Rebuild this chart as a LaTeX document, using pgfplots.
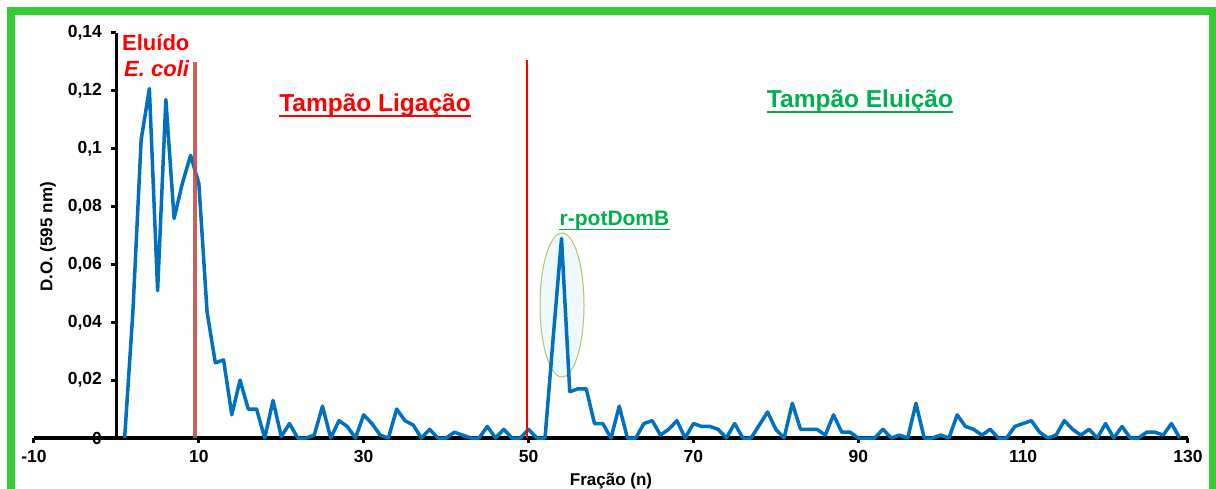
\documentclass[border=0pt]{standalone}
\usepackage{pgfplots}
\pgfplotsset{compat=1.18}
\usepackage{fontspec}
\setmainfont{Liberation Sans}
\definecolor{dblue}{RGB}{0,112,192}
\definecolor{frameg}{RGB}{51,204,51}
\definecolor{txtgreen}{RGB}{0,176,80}
\definecolor{brred}{RGB}{192,80,77}
\definecolor{ellg}{RGB}{180,198,100}
\newcommand\fs[1]{\fontsize{#1}{#1}\selectfont}
\pgfplotstableread{
x y
1 0
2 0.0436
3 0.103
4 0.1208
5 0.0509
6 0.117
7 0.0759
8 0.088
9 0.0977
10 0.088
11 0.0436
12 0.026
13 0.027
14 0.008
15 0.020
16 0.010
17 0.010
18 0
19 0.013
20 0.0005
21 0.005
22 0
23 0
24 0.001
25 0.011
26 0
27 0.006
28 0.004
29 0
30 0.008
31 0.005
32 0.001
33 0
34 0.010
35 0.006
36 0.0045
37 0
38 0.003
39 0
40 0
41 0.002
42 0.001
43 0
44 0
45 0.004
46 0
47 0.003
48 0
49 0
50 0.003
51 0
52 0
53 0.035
54 0.069
55 0.016
56 0.017
57 0.017
58 0.005
59 0.005
60 0
61 0.011
62 0
63 0
64 0.005
65 0.006
66 0.001
67 0.003
68 0.006
69 0
70 0.005
71 0.004
72 0.004
73 0.003
74 0
75 0.005
76 0
77 0
78 0.0045
79 0.009
80 0.003
81 0
82 0.012
83 0.003
84 0.003
85 0.003
86 0.001
87 0.008
88 0.002
89 0.002
90 0
91 0
92 0
93 0.003
94 0
95 0.001
96 0
97 0.012
98 0
99 0
100 0.001
101 0
102 0.008
103 0.004
104 0.003
105 0.001
106 0.003
107 0
108 0
109 0.004
110 0.005
111 0.006
112 0.002
113 0
114 0.001
115 0.006
116 0.003
117 0.001
118 0.003
119 0
120 0.005
121 0
122 0.004
123 0
124 0
125 0.002
126 0.002
127 0.001
128 0.005
129 0
}\datatable
\begin{document}
\begin{tikzpicture}[x=1pt,y=1pt]
\useasboundingbox (0,0) rectangle (1216,488);
\fill[white] (0,0) rectangle (1216,488);
\draw[frameg, line width=8] (11,-5) -- (11,477) -- (1213,477) -- (1213,-5);
\draw[fill=cyan!7, draw=ellg, line width=1] (562,183) ellipse [x radius=22, y radius=72];
\begin{axis}[
  at={(116.4pt,50pt)}, anchor=origin, scale only axis,
  width=1154pt, height=405pt,
  xmin=-10, xmax=130, ymin=0, ymax=0.14,
  axis lines=middle,
  axis line style={-, line width=3.5, black},
  clip=false,
  xtick={-10,10,30,50,70,90,110,130},
  xticklabels={-10,10,30,50,70,90,110,130},
  ytick={0,0.02,0.04,0.06,0.08,0.1,0.12,0.14},
  yticklabels={0,{0,02},{0,04},{0,06},{0,08},{0,1},{0,12},{0,14}},
  hide obscured y ticks=false,
  hide obscured x ticks=false,
  tick align=outside,
  major tick length=5,
  tick style={black, line width=3},
  ticklabel style={font=\bfseries\fs{17.5}},
  yticklabel style={xshift=-6pt},
  xticklabel style={yshift=-4pt},
]
\addplot[dblue, line width=3.5, line join=round, no marks] table[x=x,y=y] {\datatable};
\addplot[brred, line width=3.5, opacity=0.9, no marks] coordinates {(9.55,0) (9.55,0.13)};
\addplot[red, line width=2.5, no marks] coordinates {(49.8,0) (49.8,0.1306)};
\end{axis}
\node[anchor=base west, inner sep=0, text=red, font=\bfseries\fs{22}] at (122,437.3) {Eluído};
\node[anchor=base west, inner sep=0, text=red, font=\bfseries\itshape\fs{22}] at (124,411.3) {E. coli};
\node[anchor=base, inner sep=0, text=red, font=\bfseries\fs{24.5}] (tl) at (375,376) {Tampão Ligação};
\draw[red, line width=2] ([yshift=-4]tl.base west) -- ([yshift=-4]tl.base east);
\node[anchor=base, inner sep=0, text=txtgreen, font=\bfseries\fs{24.5}] (te) at (860,380) {Tampão Eluição};
\draw[txtgreen, line width=2] ([yshift=-4]te.base west) -- ([yshift=-4]te.base east);
\node[anchor=base, inner sep=0, text=txtgreen, font=\bfseries\fs{21}] (rp) at (614.5,262) {r-potDomB};
\draw[txtgreen, line width=1.8] ([yshift=-3.5]rp.base west) -- ([yshift=-3.5]rp.base east);
\node[anchor=base, inner sep=0, font=\bfseries\fs{17}] at (611,3) {Fração (n)};
\node[rotate=90, anchor=center, inner sep=0, font=\bfseries\fs{17}] at (48,251) {D.O. (595 nm)};
\end{tikzpicture}
\end{document}
